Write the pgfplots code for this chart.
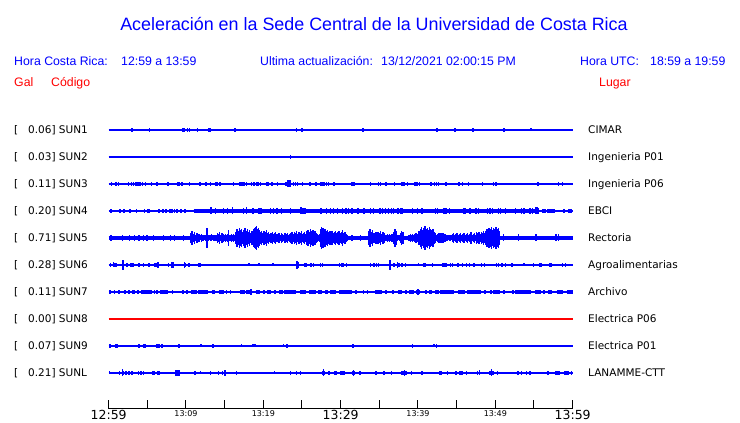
\documentclass[border=0pt]{standalone}
\usepackage{pgfplots}
\pgfplotsset{compat=1.18}
\usepackage{fontspec}
\setmainfont{DejaVu Sans}
\newfontfamily\lib{Liberation Sans}
\definecolor{sblue}{RGB}{0,0,255}
\definecolor{sred}{RGB}{255,0,0}
\pgfplotsset{
 spk/.style={draw=none, mark=none, forget plot,
   /pgfplots/error bars/y dir=both, /pgfplots/error bars/y explicit,
   /pgfplots/error bars/error mark=none,
   /pgfplots/error bars/error bar style={draw=sblue, line width=#1}},
 spk/.default=1.3pt,
 blb/.style={draw=none, mark=none, forget plot,
   /pgfplots/error bars/x dir=both, /pgfplots/error bars/x explicit,
   /pgfplots/error bars/error mark=none,
   /pgfplots/error bars/error bar style={draw=sblue, line width=#1}},
 blb/.default=4pt,
 base/.style={draw=sblue, line width=1.1pt, forget plot},
}
\newcommand{\bt}[1]{\mbox{\fontsize{12.5}{14}\selectfont #1}}
\newcommand{\st}[1]{\mbox{\fontsize{8}{10}\selectfont #1}}
\begin{document}
\begin{tikzpicture}[x=1pt,y=1pt]
\useasboundingbox (0,0) rectangle (740,423);
\begin{axis}[at={(140.5,14)}, anchor=south west, scale only axis,
  width=464pt, height=409pt, xmin=0, xmax=60, ymin=14, ymax=423,
  axis x line=bottom, axis y line=none,
  axis line style={-, line width=1pt, black},
  xtick={0,10,20,30,40,50,60}, minor xtick={5,15,25,35,45,55},
  xticklabels={\bt{12:59},\st{13:09},\st{13:19},\bt{13:29},\st{13:39},\st{13:49},\bt{13:59}},
  tick align=inside, major tick length=9pt, minor tick length=9pt,
  tick style={black, line width=1pt},
  xticklabel style={inner sep=1pt},
  clip=false]
% baselines
\addplot[base] coordinates {(0,293) (60,293)};
\addplot[base] coordinates {(0,266) (60,266)};
\addplot[base] coordinates {(0,239) (60,239)};
\addplot[base] coordinates {(0,212) (60,212)};
\addplot[draw=sblue, line width=3.6pt, forget plot] coordinates {(10.99,212) (55.6,212)};
\addplot[draw=sblue, line width=4.4pt, forget plot] coordinates {(0,185) (60,185)};
\addplot[base] coordinates {(0,158) (60,158)};
\addplot[base] coordinates {(0,131) (60,131)};
\addplot[draw=sred, line width=1.1pt, forget plot] coordinates {(0,104) (60,104)};
\addplot[base] coordinates {(0,77) (60,77)};
\addplot[base] coordinates {(0,50) (60,50)};
% SUN1
\addplot[spk] table[x=x, y expr=293, y error=a, row sep=\\] {x a\\
3.01 2.3\\ 5.26 2.3\\ 9.57 2.3\\ 9.74 2.3\\ 10.18 2.3\\ 10.43 2.3\\ 11.47 2.3\\
16.33 2.3\\ 24.27 2.3\\ 24.99 2.3\\ 32.88 2.3\\ 42.45 2.3\\ 44.78 2.3\\ 47.10 2.3\\
51.11 2.3\\ 54.60 1.5\\};
\addplot[blb=3.5pt] table[x=x, y expr=293, x error=w, row sep=\\] {x w\\ 13.02 0.15\\ 9.65 0.12\\};
% SUN2
\addplot[spk] table[x=x, y expr=266, y error=a, row sep=\\] {x a\\ 23.49 2\\};
% SUN3
\addplot[spk=1.6pt] table[x=x, y expr=239, y error=a, row sep=\\] {x a\\
0.35 1.8\\ 0.95 1.8\\ 1.29 1.8\\ 2.59 1.8\\ 2.93 1.8\\ 3.19 1.8\\ 3.53 1.8\\ 3.79 1.8\\
4.05 1.8\\ 4.40 1.8\\ 4.74 1.8\\ 5.52 1.8\\ 6.29 1.8\\ 7.67 1.8\\ 8.97 1.8\\ 9.14 1.8\\
9.40 1.8\\ 9.57 1.8\\ 10.43 1.8\\ 11.85 1.8\\ 12.59 1.8\\ 13.19 1.8\\ 13.88 1.8\\
14.05 1.8\\ 14.31 1.8\\ 14.48 1.8\\ 16.12 1.8\\ 16.98 1.8\\ 17.24 1.8\\ 17.50 1.8\\
17.85 1.8\\ 18.45 1.8\\ 18.79 1.8\\ 19.22 1.8\\ 19.40 1.8\\ 19.66 1.8\\ 20.43 1.8\\
20.60 1.8\\ 21.12 1.8\\ 21.81 1.8\\ 22.93 1.8\\ 23.19 3.5\\ 23.36 3.5\\ 23.53 3.5\\
23.88 2\\ 24.14 2\\ 24.40 2\\ 25.09 1.8\\ 26.03 1.8\\ 26.81 1.8\\ 27.41 1.8\\ 27.59 2\\
27.85 2\\ 28.19 2\\ 28.45 1.8\\ 29.14 1.8\\ 31.47 1.8\\ 31.72 1.8\\ 33.84 1.8\\
34.91 1.8\\ 35.17 1.8\\ 35.86 1.8\\ 36.98 2\\ 37.93 1.8\\ 38.19 1.8\\ 38.62 1.8\\
39.65 1.8\\ 39.91 1.8\\ 40.17 1.8\\ 41.72 1.8\\ 42.16 2\\ 42.41 2\\ 42.67 1.8\\
43.62 1.8\\ 45.34 1.8\\ 45.78 1.8\\ 46.55 1.8\\ 48.36 1.8\\ 49.74 2\\ 50.00 2\\
50.17 1.8\\ 55.52 1.8\\ 58.19 1.8\\ 58.71 1.8\\};
% SUN4
\addplot[blb=3.4pt] table[x=x, y expr=212, x error=w, row sep=\\] {x w\\
0.30 0.1\\ 1.42 0.1\\ 1.94 0.1\\ 2.80 0.13\\ 3.58 0.1\\ 4.61 0.1\\ 5.04 0.1\\ 5.21 0.1\\
6.51 0.1\\ 7.03 0.1\\ 7.37 0.1\\ 7.89 0.1\\ 8.15 0.1\\ 8.49 0.1\\ 8.84 0.13\\ 9.35 0.1\\
9.87 0.1\\ 56.12 0.1\\ 56.46 0.13\\ 56.81 0.13\\ 57.07 0.1\\ 57.33 0.1\\ 57.58 0.1\\
58.88 0.1\\ 59.57 0.12\\ 59.80 0.12\\};
\addplot[spk] table[x=x, y expr=212, y error=a, row sep=\\] {x a\\
13.23 3.5\\ 13.83 3\\ 14.87 3\\ 15.39 3\\ 15.99 3.5\\ 17.46 3\\ 17.80 3.5\\ 18.66 3\\
19.44 3\\ 19.70 3\\ 20.90 3\\ 21.33 3\\ 21.77 3\\ 22.37 3\\ 23.49 3\\ 24.87 3.5\\
25.13 3\\ 25.39 3\\ 27.46 3\\ 28.15 3\\ 28.66 3\\ 29.09 3\\ 29.61 3\\ 30.21 3\\
30.69 3\\ 31.03 3\\ 31.46 3\\ 32.24 3\\ 32.93 3\\ 33.10 3\\ 33.88 3\\ 34.22 3\\
35.08 3\\ 35.43 3\\ 35.77 3\\ 36.21 3\\ 36.55 3\\ 36.81 3\\ 37.33 3\\ 37.50 3\\
37.76 3\\ 37.93 3\\ 39.31 3\\ 39.91 3\\ 40.43 3\\ 40.60 3\\ 42.24 3\\ 42.50 3\\
43.36 3\\ 43.62 3\\ 44.05 3\\ 45.95 3\\ 46.12 3\\ 46.72 3\\ 47.50 3\\ 47.84 3\\
48.96 3\\ 49.22 3\\ 49.39 3\\ 49.65 3\\ 50.43 3\\ 50.69 3\\ 51.29 3\\ 52.58 3\\
53.36 3\\ 53.70 3\\ 54.48 3\\ 54.82 3\\ 55.26 3.5\\ 55.43 3.5\\ 55.60 3\\};
% SUN5
\addplot[spk=1.4pt] table[x=x, y expr=185, y error=a, row sep=\\] {x a\\
0.30 3\\ 1.77 3\\ 2.72 3\\ 3.32 3\\ 3.92 3\\ 4.52 3\\ 4.96 3\\ 5.82 3\\ 7.11 3\\
7.97 3\\ 8.49 3\\ 9.70 3\\
10.65 5\\ 10.8 7\\ 10.95 4\\ 11.1 6\\ 11.25 3\\ 11.4 5\\ 11.55 3\\ 11.7 4\\ 11.85 2.5\\
12.0 4\\ 12.15 3\\ 12.3 3\\ 12.45 2.5\\ 12.6 3\\ 12.71 10\\ 12.85 3\\ 13.0 2.5\\
13.15 3\\ 13.3 3.5\\ 13.45 2.5\\ 13.6 3\\ 13.75 2.5\\ 13.9 3\\ 14.05 5\\ 14.2 4\\
14.35 6\\ 14.5 3\\ 14.65 5\\ 14.8 4\\ 14.95 3\\ 15.1 4\\ 15.25 3\\ 15.4 4\\ 15.52 8\\
15.7 3\\ 15.85 4\\ 16.0 3\\ 16.15 4\\ 16.3 3\\ 16.45 6\\ 16.6 9\\ 16.75 7\\ 16.9 10\\
17.05 8\\ 17.2 9\\ 17.35 6\\ 17.5 8\\ 17.65 10\\ 17.8 7\\ 17.95 9\\ 18.1 6\\ 18.25 8\\
18.4 5\\ 18.55 7\\ 18.7 9\\ 18.85 10\\ 19.0 11\\ 19.1 12\\ 19.2 9\\ 19.35 10\\ 19.5 8\\
19.65 6\\ 19.8 7\\ 19.95 5\\ 20.1 7\\ 20.25 6\\ 20.4 8\\ 20.55 5\\ 20.7 6\\ 20.85 4\\
21.0 5\\ 21.15 6\\ 21.3 4\\ 21.45 5\\ 21.6 6\\ 21.75 4\\ 21.9 4\\ 22.05 5\\ 22.2 3\\
22.35 5\\ 22.5 4\\ 22.65 3\\ 22.8 5\\ 22.95 4\\ 23.1 5\\ 23.25 3\\ 23.4 4\\ 23.55 5\\
23.7 6\\ 23.85 4\\ 24.0 6\\ 24.15 5\\ 24.3 7\\ 24.45 4\\ 24.6 6\\ 24.75 5\\ 24.9 7\\
25.05 4\\ 25.2 5\\ 25.35 6\\ 25.5 4\\ 25.65 7\\ 25.8 8\\ 25.95 6\\ 26.1 9\\ 26.25 7\\
26.4 8\\ 26.55 6\\ 26.7 7\\ 26.85 5\\ 27.0 4\\ 27.15 3\\ 27.3 4\\ 27.4 9\\ 27.55 11\\
27.7 10\\ 27.85 8\\ 28.0 9\\ 28.15 7\\ 28.3 8\\ 28.45 6\\ 28.6 7\\ 28.75 6\\ 28.9 7\\
29.05 5\\ 29.2 6\\ 29.35 7\\ 29.5 5\\ 29.65 6\\ 29.8 7\\ 29.95 5\\ 30.1 6\\ 30.25 8\\
30.4 5\\ 30.55 6\\ 30.7 4\\ 30.82 3\\ 31.46 3\\ 32.58 3\\
33.65 7\\ 33.8 9\\ 33.95 6\\ 34.1 8\\ 34.25 5\\ 34.4 5\\ 34.55 6\\ 34.7 4\\ 34.85 6\\
35.0 5\\ 35.15 7\\ 35.3 4\\ 35.45 6\\ 35.6 5\\ 35.75 3\\ 35.9 3\\ 36.05 4\\ 36.2 3\\
36.35 4\\ 36.5 3\\ 36.65 4\\ 36.8 3\\ 36.9 6\\ 37.05 9\\ 37.2 7\\ 37.35 3\\ 37.5 2.5\\
37.65 3\\ 37.75 5\\ 37.9 7\\ 38.05 6\\ 38.85 3\\ 39.0 4\\ 39.15 3\\ 39.3 4\\ 39.45 3\\
39.6 4\\ 39.75 5\\ 39.9 4\\ 40.05 5\\ 40.15 7\\ 40.3 9\\ 40.45 11\\ 40.6 8\\ 40.75 10\\
40.9 12\\ 41.05 9\\ 41.2 10\\ 41.35 8\\ 41.5 11\\ 41.65 9\\ 41.8 8\\ 41.95 9\\ 42.1 6\\
42.2 5\\ 42.35 3\\ 42.5 4\\ 42.65 5\\ 42.8 5\\ 42.95 5\\ 43.1 5\\ 43.25 5\\ 43.4 4\\
43.55 4\\ 43.7 3\\ 43.85 3\\ 44.0 2.5\\ 44.15 3\\ 44.3 2.5\\ 44.45 4\\ 44.6 5\\ 44.75 3\\
44.9 4\\ 45.05 5\\ 45.2 3\\ 45.35 4\\ 45.5 5\\ 45.65 3\\ 45.8 4\\ 45.95 5\\ 46.1 3\\
46.25 4\\ 46.4 5\\ 46.55 3\\ 46.7 4\\ 46.85 6\\ 47.0 3\\ 47.15 4\\ 47.3 5\\ 47.45 3\\
47.6 6\\ 47.75 5\\ 47.9 6\\ 48.05 4\\ 48.2 6\\ 48.35 5\\ 48.5 7\\ 48.65 5\\ 48.75 7\\
48.9 9\\ 49.05 8\\ 49.2 10\\ 49.35 9\\ 49.5 11\\ 49.65 8\\ 49.8 10\\ 49.95 9\\ 50.1 11\\
50.25 9\\ 50.4 10\\ 50.5 7\\ 51.03 3.5\\ 53.01 3.5\\ 55.26 3.5\\ 57.84 3.5\\ 58.19 3.5\\};
% SUN6
\addplot[spk=1.5pt] table[x=x, y expr=158, y error=a, row sep=\\] {x a\\
0.22 2.2\\ 0.65 2.5\\ 0.82 2.2\\ 0.99 2.2\\ 1.85 5\\ 2.37 2.2\\ 3.92 2.2\\ 4.53 2.2\\
5.21 2.2\\ 6.40 3\\ 7.72 2.2\\ 8.15 3\\ 8.32 3\\ 9.78 3\\ 9.96 2.2\\ 10.39 2.2\\
18.15 1.5\\ 19.44 1.5\\ 21.25 1.5\\ 24.35 4\\ 24.53 3\\ 26.16 2.2\\ 26.51 2.2\\
27.37 2.2\\ 27.63 2.2\\ 29.83 2.2\\ 30.17 2.2\\ 30.34 2.2\\ 30.77 2.2\\ 33.88 2.2\\
34.31 2.2\\ 34.65 2.2\\ 34.91 2.2\\ 36.38 5\\ 36.89 2.2\\ 37.33 3\\ 37.58 2.2\\
37.93 2.2\\ 38.36 2.2\\ 40.08 1.5\\ 41.89 2.2\\ 44.22 2.2\\ 44.48 2.2\\ 45.17 2.2\\
45.77 2.2\\ 46.29 2.2\\ 46.64 2.2\\ 47.24 2.2\\ 48.19 2.2\\ 48.62 2.2\\ 50.17 2.2\\
50.43 2.2\\ 50.86 2.2\\ 51.29 2.2\\ 52.15 2.2\\ 53.70 1.5\\ 54.91 2.2\\ 58.70 2.2\\
59.05 2.2\\};
\addplot[blb=4pt] table[x=x, y expr=158, x error=w, row sep=\\] {x w\\
3.06 0.26\\ 6.12 0.22\\ 11.77 0.18\\ 25.43 0.22\\ 37.45 0.12\\ 40.82 0.2\\ 43.45 0.35\\
55.82 0.22\\ 57.11 0.2\\};
% SUN7
\addplot[blb=4pt] table[x=x, y expr=131, x error=w, row sep=\\] {x w\\
0.13 0.1\\ 0.73 0.1\\ 1.38 0.13\\ 2.07 0.13\\ 2.67 0.13\\ 3.23 0.17\\ 3.79 0.13\\
4.91 0.73\\ 5.90 0.1\\ 6.25 0.1\\ 7.20 0.52\\ 8.23 0.1\\ 9.57 0.13\\ 10.09 0.13\\
11.03 0.39\\ 12.24 0.65\\ 13.53 0.22\\ 14.61 0.34\\ 15.21 0.1\\ 15.73 0.1\\ 17.33 0.30\\
18.19 0.39\\ 19.31 0.22\\ 20.09 0.13\\ 20.73 0.26\\ 21.51 0.1\\ 22.28 0.26\\ 23.49 0.78\\
25.13 0.43\\ 26.33 0.43\\ 27.33 0.30\\ 28.14 0.17\\ 29.01 0.34\\ 30.10 0.30\\ 30.95 0.52\\
31.94 0.13\\ 32.93 0.1\\ 33.45 0.1\\ 34.87 0.47\\ 35.90 0.13\\ 36.72 0.1\\ 37.67 0.26\\
38.45 0.17\\ 39.14 0.34\\ 40.00 0.26\\ 41.08 0.13\\ 41.64 0.17\\ 42.45 0.22\\ 43.75 0.91\\
45.64 0.47\\ 47.28 0.91\\ 48.66 0.13\\ 49.39 0.1\\ 50.17 0.43\\ 51.16 0.13\\ 52.24 0.1\\
53.62 1.03\\ 55.47 0.39\\ 56.33 0.13\\ 57.07 0.26\\ 58.40 0.39\\ 59.65 0.34\\};
\addplot[spk] table[x=x, y expr=131, y error=a, row sep=\\] {x a\\ 40.00 3\\ 18.40 2.8\\};
% SUN9
\addplot[spk] table[x=x, y expr=77, y error=a, row sep=\\] {x a\\
3.92 2\\ 4.53 2\\ 4.70 2\\ 6.25 2\\ 6.51 2\\ 9.01 2\\ 9.18 2\\ 11.94 1.5\\ 13.49 2\\
17.20 1.5\\ 18.66 1.5\\ 18.92 1.5\\ 22.63 1.5\\ 39.31 2\\ 42.07 1.5\\ 42.41 2\\};
\addplot[blb=3.8pt] table[x=x, y expr=77, x error=w, row sep=\\] {x w\\
0.12 0.12\\ 0.99 0.22\\ 6.90 0.13\\ 23.06 0.13\\ 31.64 0.13\\};
% SUNL
\addplot[spk] table[x=x, y expr=50, y error=a, row sep=\\] {x a\\
0.13 1.5\\ 1.42 2\\ 1.77 3.5\\ 1.94 2\\ 2.63 2\\ 3.84 2\\ 4.09 2\\ 4.27 2\\ 4.53 2\\
5.73 2\\ 5.90 2\\ 11.16 2\\ 11.85 1.5\\ 13.15 2\\ 14.18 2\\ 14.70 2\\ 15.04 3\\
21.42 1.5\\ 23.49 2\\ 24.27 2\\ 24.78 2\\ 27.80 3.5\\ 28.49 2\\ 29.27 2\\ 29.44 2\\
31.64 3\\ 32.50 2\\ 34.57 2\\ 36.55 2\\ 38.23 3\\ 39.14 2\\ 40.52 2\\ 43.79 2\\
45.43 2\\ 45.69 2\\ 46.29 2\\ 47.67 2\\ 47.93 2.5\\ 49.52 3.5\\ 50.26 2\\ 52.93 2\\
53.36 2\\ 54.05 2\\ 54.48 2\\ 56.81 2\\ 59.83 2\\};
\addplot[blb=4pt] table[x=x, y expr=50, x error=w, row sep=\\] {x w\\
2.24 0.13\\ 2.97 0.13\\ 6.42 0.17\\ 16.51 0.1\\ 27.80 0.17\\ 30.20 0.30\\ 31.64 0.17\\
35.64 0.13\\ 38.23 0.39\\ 42.89 0.22\\ 44.91 0.17\\ 49.52 0.30\\ 58.06 0.30\\ 59.18 0.30\\};
\addplot[blb=5.5pt] table[x=x, y expr=50, x error=w, row sep=\\] {x w\\ 8.88 0.30\\};
\end{axis}
% texts
\node[sblue, inner sep=0, anchor=base, font=\lib\fontsize{17.9}{21}\selectfont] at (374,392) {Aceleración en la Sede Central de la Universidad de Costa Rica};
\begin{scope}[every node/.style={inner sep=0, anchor=base west, font=\lib\fontsize{12.3}{14}\selectfont}]
\node[sblue] at (14,357.5) {Hora Costa Rica:};
\node[sblue] at (121,357.5) {12:59 a 13:59};
\node[sblue] at (260,357.5) {Ultima actualización:};
\node[sblue] at (381,357.5) {13/12/2021 02:00:15 PM};
\node[sblue] at (580,357.5) {Hora UTC:};
\node[sblue] at (650,357.5) {18:59 a 19:59};
\node[sred] at (14,336.5) {Gal};
\node[sred] at (51,336.5) {Código};
\node[sred] at (599,336.5) {Lugar};
\end{scope}
\begin{scope}[every node/.style={inner sep=0, anchor=base west, font=\fontsize{10.5}{12}\selectfont}]
\foreach \v/\c/\n/\y in {0.06/SUN1/CIMAR/293, 0.03/SUN2/Ingenieria P01/266,
  0.11/SUN3/Ingenieria P06/239, 0.20/SUN4/EBCI/212, 0.71/SUN5/Rectoria/185,
  0.28/SUN6/Agroalimentarias/158, 0.11/SUN7/Archivo/131, 0.00/SUN8/Electrica P06/104,
  0.07/SUN9/Electrica P01/77, 0.21/SUNL/LANAMME-CTT/50}{
  \node at (14,\y-3.8) {[};
  \node at (28,\y-3.8) {\v] \c};
  \node at (588,\y-3.8) {\n};
}
\end{scope}
\end{tikzpicture}
\end{document}
